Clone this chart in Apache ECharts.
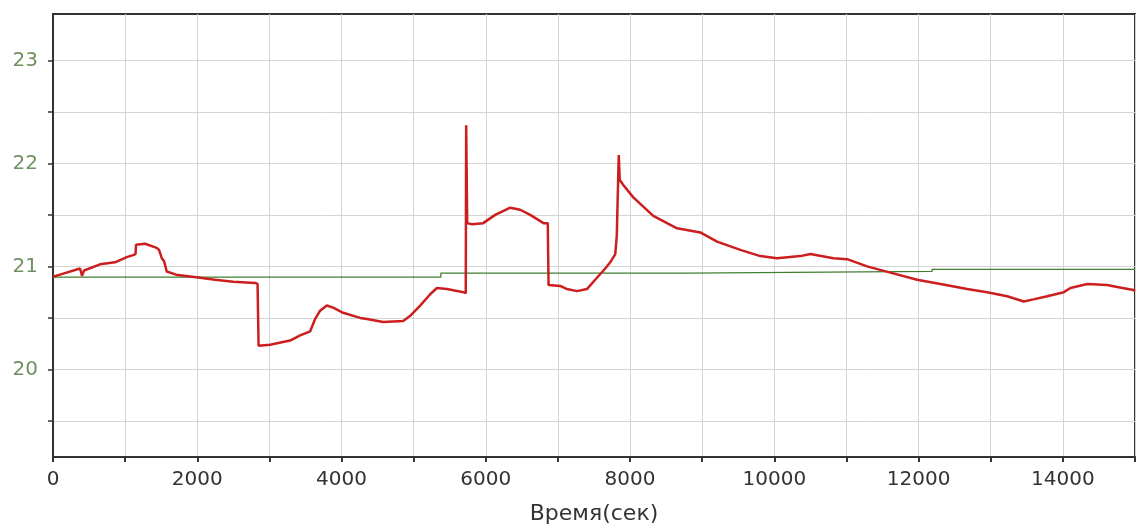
<!DOCTYPE html>
<html>
<head>
<meta charset="utf-8">
<script src="https://cdn.jsdelivr.net/npm/echarts@6.0.0/dist/echarts.min.js"></script>
<style>
html,body{margin:0;padding:0;background:#fff;}
#chart{width:1138px;height:530px;}
</style>
</head>
<body>
<div id="chart"></div>
<script>
// Time (sec) and temperature values
var redTime = [0,97,374,402,430,652,860,1022,1110,1144,1151,1276,1438,1470,1508,1540,1577,1706,2039,2247,2497,2802,2836,2850,3010,3287,3426,3565,3634,3703,3796,3884,4022,4258,4351,4577,4855,4952,5090,5229,5322,5460,5691,5722,5728,5742,5807,5964,6130,6339,6477,6616,6800,6859,6870,7032,7125,7264,7402,7541,7656,7725,7795,7816,7843,7857,7906,8045,8322,8651,8974,9206,9529,9806,10038,10361,10500,10819,11009,11286,11609,11980,12303,12673,12950,13228,13458,13593,13783,14013,14105,14337,14614,14753,14979,15000];
var redTemp = [20.90,20.92,20.98,20.91,20.96,21.02,21.04,21.09,21.11,21.12,21.21,21.22,21.18,21.16,21.08,21.05,20.95,20.92,20.89,20.87,20.85,20.84,20.83,20.23,20.24,20.28,20.33,20.37,20.49,20.57,20.62,20.60,20.55,20.50,20.49,20.46,20.47,20.52,20.62,20.73,20.79,20.78,20.75,20.74,22.37,21.42,21.41,21.42,21.50,21.57,21.55,21.50,21.42,21.42,20.82,20.81,20.78,20.76,20.78,20.89,20.98,21.04,21.12,21.30,22.08,21.84,21.79,21.67,21.49,21.37,21.33,21.24,21.16,21.10,21.08,21.10,21.12,21.08,21.07,21.00,20.94,20.87,20.83,20.78,20.75,20.71,20.66,20.68,20.71,20.75,20.79,20.83,20.82,20.80,20.77,20.76];
var greenTime = [0,5377,8789,12187,15000];
var greenTemp = [20.895,20.935,20.952,20.972,20.972];
var yTicks = [19.5,20,20.5,21,21.5,22,22.5,23];
var yLabels = [20,21,22,23];
var xAxisName = 'Время(сек)';

function zip(a,b){var r=[];for(var i=0;i<a.length;i++)r.push([a[i],b[i]]);return r;}

var chart = echarts.init(document.getElementById('chart'), null, {renderer:'canvas'});
chart.setOption({
  animation:false,
  backgroundColor:'#ffffff',
  grid:{left:53,right:2,top:14,bottom:72,show:true,borderColor:'#333',borderWidth:2,backgroundColor:'transparent'},
  xAxis:{
    type:'value',min:0,max:15000,interval:1000,
    name:xAxisName,nameLocation:'middle',nameGap:46,
    nameTextStyle:{color:'#333',fontFamily:'DejaVu Sans',fontSize:22},
    axisLine:{show:true,lineStyle:{color:'#333',width:2}},
    axisTick:{show:true,length:5,lineStyle:{color:'#333',width:2}},
    axisLabel:{color:'#333',fontFamily:'DejaVu Sans',fontSize:20,margin:13,
      formatter:function(v){return (v%2000===0)?String(v):'';}},
    splitLine:{show:true,lineStyle:{color:'#d4d4d4',width:1}}
  },
  yAxis:{
    type:'value',min:19.15,max:23.45,
    axisLine:{show:true,lineStyle:{color:'#333',width:2}},
    axisTick:{show:true,length:5,customValues:yTicks,lineStyle:{color:'#333',width:1.5}},
    axisLabel:{color:'#6f9160',fontFamily:'DejaVu Sans',fontSize:20,margin:15,customValues:yLabels,
      formatter:function(v){return String(Math.round(v));}},
    splitLine:{show:true,lineStyle:{color:'#d4d4d4',width:1}}
  },
  series:[
    {type:'line',data:zip(greenTime,greenTemp),step:'end',showSymbol:false,
     lineStyle:{color:'#3f7f2f',width:1.3},z:2},
    {type:'line',data:zip(redTime,redTemp),showSymbol:false,
     lineStyle:{color:'#cc1e1e',width:2.5},z:3}
  ]
});
</script>
</body>
</html>
